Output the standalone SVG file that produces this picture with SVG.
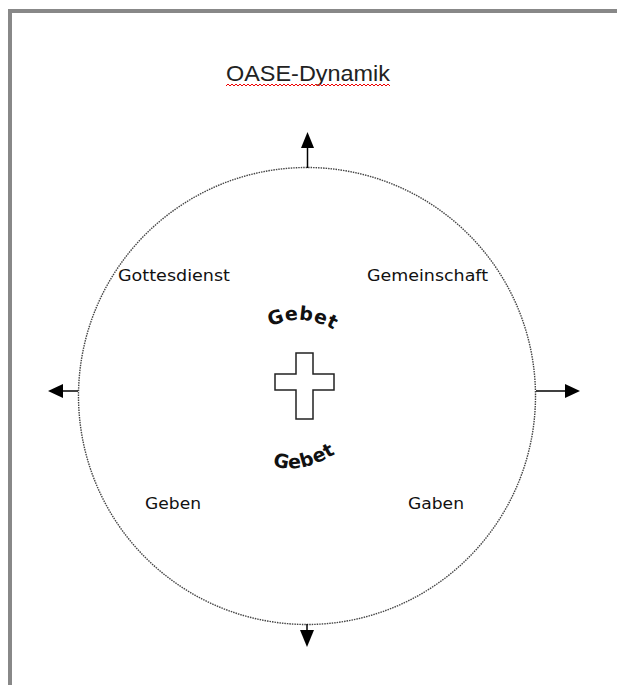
<svg xmlns="http://www.w3.org/2000/svg" width="617" height="685" viewBox="0 0 617 685">
<style>
.lbl{font-family:"DejaVu Sans","Verdana",sans-serif;font-size:15.5px;fill:#111}
.geb{font-family:"DejaVu Sans",sans-serif;font-size:19px;font-weight:bold;fill:#111;letter-spacing:0.5px}
.arr{stroke:#000;stroke-width:1.5;fill:none}
.head{fill:#000}
</style>
<defs>
<path id="arcTop" d="M 258 334 Q 301 304 346 338"/>
<path id="arcBot" d="M 262 460 Q 296 482 346 447"/>
</defs>
<rect width="617" height="685" fill="#fff"/>
<g id="frame">
<path d="M 10 685 L 10 11 L 617 11" fill="none" stroke="#888" stroke-width="4"/>
</g>
<g id="title">
<text x="226" y="81" font-family="Liberation Sans, Arial, sans-serif" font-size="22" fill="#222" textLength="164" lengthAdjust="spacingAndGlyphs">OASE-Dynamik</text>
<polyline points="226,86 228,84 230,86 232,84 234,86 236,84 238,86 240,84 242,86 244,84 246,86 248,84 250,86 252,84 254,86 256,84 258,86 260,84 262,86 264,84 266,86 268,84 270,86 272,84 274,86 276,84 278,86 280,84 282,86 284,84 286,86 288,84 290,86 292,84 294,86 296,84 298,86 300,84 302,86 304,84 306,86 308,84 310,86 312,84 314,86 316,84 318,86 320,84 322,86 324,84 326,86 328,84 330,86 332,84 334,86 336,84 338,86 340,84 342,86 344,84 346,86 348,84 350,86 352,84 354,86 356,84 358,86 360,84 362,86 364,84 366,86 368,84 370,86 372,84 374,86 376,84 378,86 380,84 382,86 384,84 386,86 388,84 390,86" fill="none" stroke="#e00" stroke-width="1"/>
</g>
<g id="circle">
<circle cx="307" cy="396" r="228.5" fill="none" stroke="#444" stroke-width="1.4" stroke-dasharray="1.5 1"/>
</g>
<g id="connectors">
<line class="arr" x1="307.5" y1="168" x2="307.5" y2="146"/>
<polygon class="head" points="307.5,132 301,148 314,148"/>
<line class="arr" x1="78" y1="391" x2="62" y2="391"/>
<polygon class="head" points="48,391 63,384 63,398"/>
<line class="arr" x1="536" y1="391" x2="566" y2="391"/>
<polygon class="head" points="580,391 565,384 565,398"/>
<line class="arr" x1="307" y1="624" x2="307" y2="632"/>
<polygon class="head" points="307,647 300,630 314,630"/>
</g>
<g id="gottesdienst"><text class="lbl" x="118" y="281" textLength="112" lengthAdjust="spacingAndGlyphs">Gottesdienst</text></g>
<g id="gemeinschaft"><text class="lbl" x="367" y="281" textLength="121" lengthAdjust="spacingAndGlyphs">Gemeinschaft</text></g>
<g id="geben"><text class="lbl" x="145" y="509" textLength="56" lengthAdjust="spacingAndGlyphs">Geben</text></g>
<g id="gaben"><text class="lbl" x="408" y="509" textLength="56" lengthAdjust="spacingAndGlyphs">Gaben</text></g>
<g id="gebet-top"><text class="geb" text-anchor="middle"><textPath href="#arcTop" startOffset="50%">Gebet</textPath></text></g>
<g id="cross">
<path d="M 296 353 H 313 V 374 H 334 V 390 H 313 V 419 H 296 V 390 H 275 V 374 H 296 Z" fill="#fff" stroke="#222" stroke-width="1.5"/>
</g>
<g id="gebet-bottom"><text class="geb" text-anchor="middle"><textPath href="#arcBot" startOffset="50%">Gebet</textPath></text></g>
</svg>
